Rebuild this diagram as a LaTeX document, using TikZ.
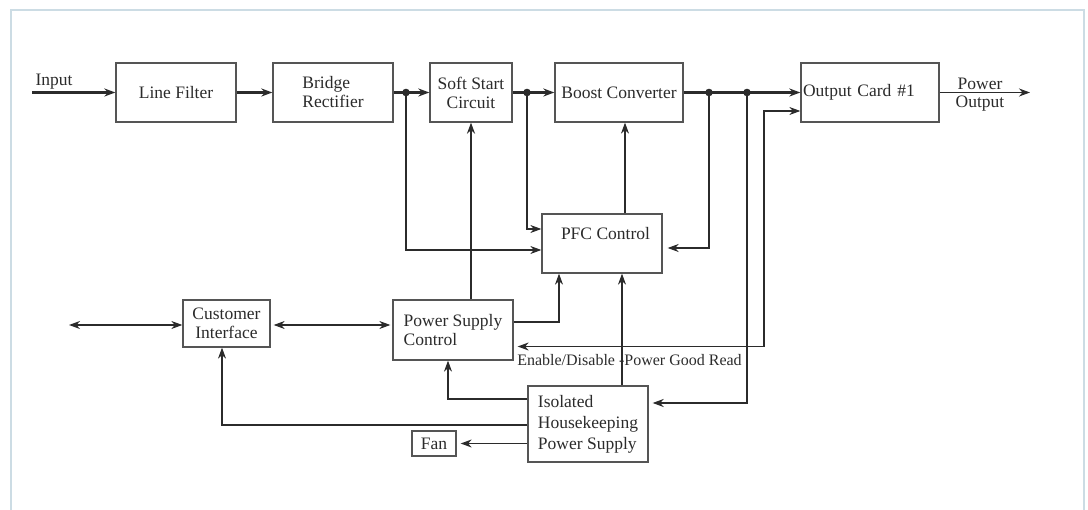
\documentclass[tikz,border=0pt]{standalone}
\usepackage{fontspec}
\setmainfont{Liberation Serif}
\usetikzlibrary{arrows.meta,calc}
\definecolor{ink}{HTML}{2B2B2B}
\definecolor{boxc}{HTML}{555555}
\definecolor{framec}{HTML}{CCDCE4}
\begin{document}
\begin{tikzpicture}[x=1pt,y=-1pt,
  font=\fontsize{17.5}{19}\selectfont,
  stl/.tip={Stealth[length=11pt,width=8pt,inset=3.5pt]},
  blk/.style={draw=boxc, line width=1.3pt, rectangle, inner sep=1pt, text=ink, align=center},
  lbl/.style={text=ink, inner sep=1pt, align=center},
  thinw/.style={draw=ink, line width=1.2pt},
  thickw/.style={draw=ink, line width=2.5pt},
  arr/.style={-stl},
  darr/.style={stl-stl},
  dot/.style={fill=ink}]
\useasboundingbox (0,0) rectangle (1088,510);
\draw[framec, line width=1.5pt] (11,10) rectangle (1084,540);

% blocks
\node[blk, minimum width=120pt, minimum height=59pt] (lf) at (176,92.5) {Line Filter};
\node[blk, minimum width=120pt, minimum height=59pt, align=left] (br) at (333,92.5) {Bridge\\Rectifier};
\node[blk, minimum width=82pt, minimum height=59pt] (ss) at (471,92.5) {Soft Start\\Circuit};
\node[blk, minimum width=128pt, minimum height=59pt] (bc) at (619,92.5) {Boost Converter};
\node[blk, minimum width=138pt, text width=134pt, minimum height=59pt, align=left] (oc) at (870,92.5) {Output Card \#1};
\node[blk, minimum width=120pt, minimum height=59pt] (pfc) at (602,243.5) {};
\node[lbl] (pfct) at (605.5,234) {PFC Control};
\node[blk, minimum width=120pt, minimum height=60pt, align=left] (psc) at (453,330) {Power Supply\\Control};
\node[blk, minimum width=87pt, minimum height=47pt] (ci) at (226.5,323.5) {Customer\\Interface};
\node[blk, minimum width=120pt, minimum height=76pt, align=left, font=\fontsize{17.5}{21}\selectfont] (hk) at (588,424) {Isolated\\Housekeeping\\Power Supply};
\node[blk, minimum width=44pt, minimum height=25pt] (fan) at (434,443.5) {Fan};

% labels
\node[lbl] (inlbl) at (54,82) {Input};
\node[lbl, font=\fontsize{17.5}{18}\selectfont] (polbl) at (980,95) {Power\\Output};
\node[lbl, font=\fontsize{16}{18}\selectfont] (pglbl) at (629.5,360) {Enable/Disable -Power Good Read};

% coordinates
\coordinate (inp) at (32,92.5);
\coordinate (pout) at (1030,92.5);
\coordinate (d1) at (406,92.5);
\coordinate (d2) at (527,92.5);
\coordinate (d3) at (709,92.5);
\coordinate (d4) at (747,92.5);
\coordinate (pg) at (764,346.5);
\coordinate (cl) at (69,325);

% main power path
\draw[thickw, arr] (inp) -- (lf.west);
\draw[thickw, arr] (lf.east) -- (br.west);
\draw[thickw, arr] (br.east) -- (ss.west);
\draw[thickw, arr] (ss.east) -- (bc.west);
\draw[thickw, arr] (bc.east) -- (oc.west);
\draw[thinw, arr] (oc.east) -- (pout);

% sense lines to PFC
\draw[thinw, arr] (d1) |- ([yshift=-6.5pt]pfc.west);
\draw[thinw, arr] (d2) |- ([yshift=14.5pt]pfc.west);
\draw[thinw, arr, shorten >=5pt] (d3) |- ([yshift=-4.5pt]pfc.east);
\draw[thickw, arr, shorten >=4pt] (d4) |- ([yshift=21pt]hk.east);

% control lines
\draw[thinw, arr] ([xshift=23pt]pfc.north) -- ([xshift=23pt]pfc.north |- bc.south);
\draw[thickw, arr] (psc.north -| ss.south) -- (ss.south);
\draw[thinw, arr] ([yshift=8pt]psc.east) -| ([xshift=-43pt]pfc.south);
\draw[thinw, darr, shorten <=4pt] ([yshift=-16.5pt]psc.east) -- (pg) |- ([yshift=-18.5pt]oc.west);
\draw[thinw, arr] ([xshift=34pt]hk.north) -- ([xshift=34pt]hk.north |- pfc.south);
\draw[thinw, arr] ([yshift=25pt]hk.west) -| ([xshift=-5pt]psc.south);
\draw[thinw, arr] ([yshift=-1pt]hk.west) -| ([xshift=-4.5pt]ci.south);
\draw[thinw, arr, shorten >=4pt] (hk.west |- fan.east) -- (fan.east);
\draw[thinw, darr, shorten <=3pt, shorten >=2pt] ([yshift=-1.5pt]ci.east) -- ([yshift=-1.5pt]ci.east -| psc.west);
\draw[thinw, darr] (cl) -- (cl -| ci.west);

% junction dots
\foreach \d in {d1,d2,d3,d4} \fill[dot] (\d) circle (3.8pt);
\end{tikzpicture}
\end{document}
